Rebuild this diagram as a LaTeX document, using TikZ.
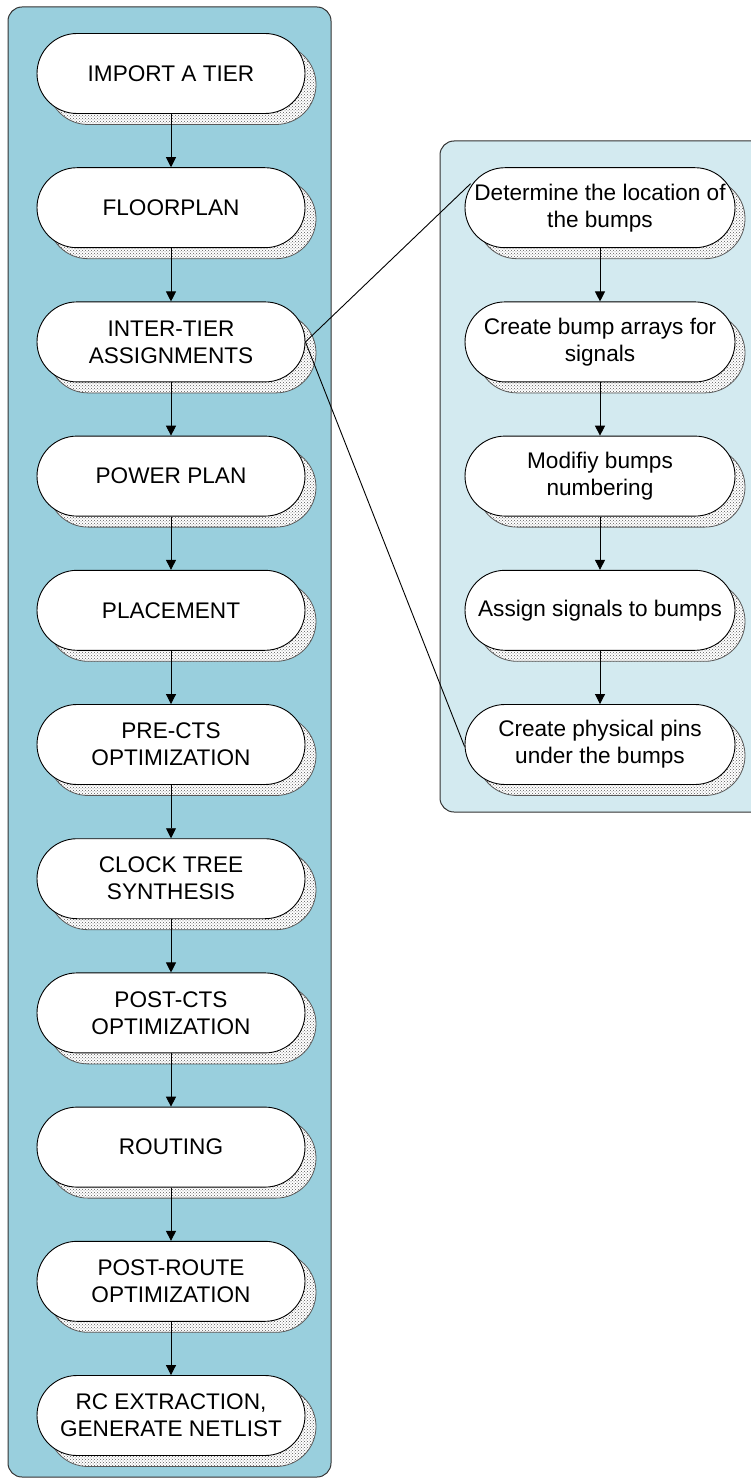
\documentclass[tikz,border=0pt]{standalone}
\usepackage{fontspec}
\setmainfont{Liberation Sans}
\usetikzlibrary{arrows.meta,patterns,calc}
\definecolor{outerblue}{RGB}{153,207,221}
\definecolor{innerblue}{RGB}{211,234,240}
\tikzset{
  stepbox/.style={draw=black, line width=0.9pt, fill=white, rounded corners=40pt,
    minimum width=268pt, minimum height=80pt, inner sep=0pt, align=center,
    font=\fontsize{22.6}{27}\selectfont},
  shadowbox/.style={draw=black!65, line width=0.8pt, rounded corners=40pt,
    preaction={fill=white}, pattern=crosshatch dots, pattern color=black!65,
    minimum width=268pt, minimum height=80pt, inner sep=0pt},
  container/.style={draw=black!80, line width=1pt, rounded corners=14pt},
  flow/.style={draw=black, line width=0.9pt, -{Triangle[length=10pt,width=10pt]}},
  link/.style={draw=black, line width=0.9pt}
}
\begin{document}
\begin{tikzpicture}[x=1pt,y=-1pt]
\useasboundingbox (0,0) rectangle (750,1479);
\path[container, fill=outerblue] (8,7) rectangle (331,1477);
\path[container, fill=innerblue] (440,141) rectangle (765,812);
% shadows
\foreach \nm/\yy in {a/73.5,b/207.7,c/341.9,d/476.1,e/610.3,f/744.5,g/878.7,h/1012.9,i/1147.1,j/1281.3,k/1415.5}{
  \node[shadowbox] (s\nm) at (182,\yy+11) {};
}
\foreach \nm/\yy in {p/207.7,q/341.9,r/476.1,s/610.3,t/744.5}{
  \node[shadowbox] (s\nm) at (611,\yy+11) {};
}
% left column
\node[stepbox] (a) at (171,73.5) {IMPORT A TIER};
\node[stepbox] (b) at (171,207.7) {FLOORPLAN};
\node[stepbox] (c) at (171,341.9) {INTER-TIER\\ASSIGNMENTS};
\node[stepbox] (d) at (171,476.1) {POWER PLAN};
\node[stepbox] (e) at (171,610.3) {PLACEMENT};
\node[stepbox] (f) at (171,744.5) {PRE-CTS\\OPTIMIZATION};
\node[stepbox] (g) at (171,878.7) {CLOCK TREE\\SYNTHESIS};
\node[stepbox] (h) at (171,1012.9) {POST-CTS\\OPTIMIZATION};
\node[stepbox] (i) at (171,1147.1) {ROUTING};
\node[stepbox] (j) at (171,1281.3) {POST-ROUTE\\OPTIMIZATION};
\node[stepbox] (k) at (171,1415.5) {RC EXTRACTION,\\GENERATE NETLIST};
% right column
\node[stepbox, minimum width=270pt] (p) at (600,207.7) {Determine the location of\\the bumps};
\node[stepbox, minimum width=270pt] (q) at (600,341.9) {Create bump arrays for\\signals};
\node[stepbox, minimum width=270pt] (r) at (600,476.1) {Modifiy bumps\\numbering};
\node[stepbox, minimum width=270pt] (s) at (600,610.3) {Assign signals to bumps};
\node[stepbox, minimum width=270pt] (t) at (600,744.5) {Create physical pins\\under the bumps};
% flow arrows
\foreach \u/\v in {a/b,b/c,c/d,d/e,e/f,f/g,g/h,h/i,i/j,j/k,p/q,q/r,r/s,s/t}{
  \draw[flow] (\u.south) -- (\v.north);
}
% links
\coordinate (pin) at ([xshift=6pt,yshift=24pt]p.west);
\coordinate (tin) at ([yshift=-2pt]t.west);
\draw[link] (c.east) -- (pin);
\draw[link] (c.east) -- (tin);
\end{tikzpicture}
\end{document}
